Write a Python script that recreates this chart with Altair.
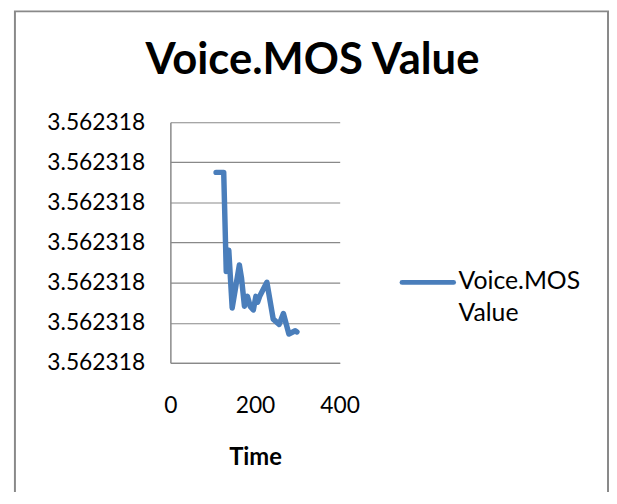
import altair as alt
import pandas as pd

series_name = "Voice.MOS Value"
chart_title = "Voice.MOS Value"
x_title = "Time"

time = [108, 126, 132, 138, 146, 163, 168, 175, 182, 189, 196, 202, 206, 211,
        228, 243, 257, 267, 280, 295, 299]
mos = [3.5623180475, 3.5623180475, 3.5623180228, 3.5623180281, 3.5623180137,
       3.5623180244, 3.5623180212, 3.5623180141, 3.5623180166, 3.5623180140,
       3.5623180132, 3.5623180166, 3.5623180151, 3.5623180166, 3.5623180201,
       3.5623180109, 3.5623180096, 3.5623180123, 3.5623180072, 3.5623180080,
       3.5623180077]
y_ticks = [3.56231800, 3.56231801, 3.56231802, 3.56231803, 3.56231804,
           3.56231805, 3.56231806]
x_ticks = [0, 200, 400]

df = pd.DataFrame({"Time": time, "MOS": mos, "series": series_name})
one = pd.DataFrame({"a": [0]})

LINE_COLOR = "#4A7EBB"
GRAY = "#898989"
FONT = "Lato"

border = alt.Chart(one).mark_rect(
    fillOpacity=0, stroke=GRAY, strokeWidth=2, clip=False
).encode(
    x=alt.value(-157), x2=alt.value(442), y=alt.value(-112), y2=alt.value(420)
)

line = alt.Chart(df).mark_line(
    color=LINE_COLOR, strokeWidth=5.5, strokeCap="round", strokeJoin="round"
).encode(
    x=alt.X("Time:Q",
            scale=alt.Scale(domain=[0, 400], nice=False, zero=False),
            axis=alt.Axis(values=x_ticks, grid=False, ticks=False, tickSize=0,
                          domainColor=GRAY, domainWidth=1.5,
                          labelFont=FONT, labelFontSize=23, labelColor="black",
                          labelPadding=32, labelFlush=False, labelOverlap=False,
                          title=x_title, titleFont=FONT, titleFontSize=24,
                          titleFontWeight="bold", titleColor="black",
                          titleX=85.5, titleY=103, titleBaseline="alphabetic",
                          titleAnchor="middle", titleAlign="center", zindex=1)),
    y=alt.Y("MOS:Q",
            scale=alt.Scale(domain=[y_ticks[0], y_ticks[-1]], nice=False, zero=False),
            axis=alt.Axis(values=y_ticks, format=".6f", grid=True, gridColor=GRAY,
                          gridWidth=1.2, ticks=False, tickSize=0,
                          domainColor=GRAY, domainWidth=1.5,
                          labelFont=FONT, labelFontSize=23, labelColor="black",
                          labelPadding=26, labelOverlap=False, labelFlush=False,
                          title=None)),
)

title = alt.Chart(one).mark_text(
    text=chart_title, font=FONT, fontSize=44, fontWeight="bold", color="black",
    align="center", baseline="alphabetic"
).encode(x=alt.value(143.5), y=alt.value(-49))

legend_swatch = alt.Chart(one).mark_rule(
    color=LINE_COLOR, strokeWidth=5, strokeCap="round"
).encode(x=alt.value(234), x2=alt.value(286), y=alt.value(161.7))

legend_text = alt.Chart(one).mark_text(
    text=series_name.split(" "), font=FONT, fontSize=25, color="black",
    align="left", baseline="alphabetic", lineHeight=33
).encode(x=alt.value(291), y=alt.value(168))

chart = alt.layer(border, line, title, legend_swatch, legend_text).properties(
    width=171, height=243,
    autosize=alt.AutoSizeParams(type="none"),
    padding={"left": 164, "top": 113, "right": 272, "bottom": 128},
).configure_view(stroke=None)

chart.save("out.html", embed_options={"renderer": "svg", "actions": False})
